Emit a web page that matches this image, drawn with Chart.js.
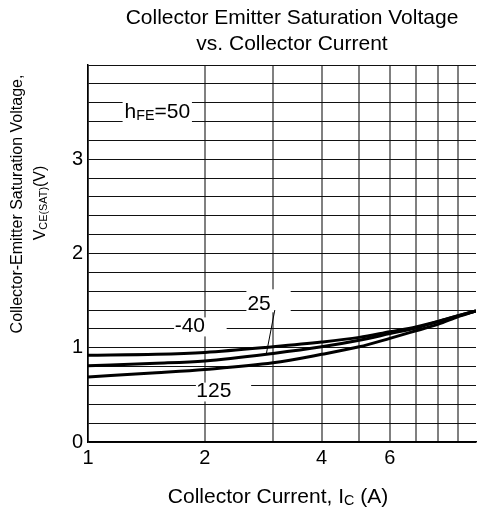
<!DOCTYPE html>
<html>
<head>
<meta charset="utf-8">
<script src="https://cdn.jsdelivr.net/npm/chart.js@4"></script>
<style>
    html, body { margin: 0; padding: 0; background: #fff; }
    #wrap { width: 480px; height: 512px; position: relative; }
</style>
</head>
<body>
<div id="wrap"><canvas id="chart"></canvas></div>
<script>
// collector current (A)
const currents = [1, 1.5, 2, 3, 4, 5, 6, 7, 8, 9, 10];

// VCE(sat) for hFE = 50, per ambient temperature
const vceMinus40 = [0.92, 0.93, 0.95, 1.01, 1.06, 1.11, 1.17, 1.22, 1.28, 1.34, 1.39];
const vce25 = [0.81, 0.835, 0.86, 0.94, 1.01, 1.08, 1.15, 1.21, 1.28, 1.34, 1.39];
const vce125 = [0.69, 0.735, 0.77, 0.84, 0.93, 1.01, 1.10, 1.18, 1.25, 1.33, 1.39];

const xGridValues = [1, 2, 3, 4, 5, 6, 7, 8, 9, 10];
const xTickLabels = [1, 2, 4, 6];
const yGridValues = [0, 0.2, 0.4, 0.6, 0.8, 1, 1.2, 1.4, 1.6, 1.8, 2, 2.2, 2.4, 2.6, 2.8, 3, 3.2, 3.4, 3.6, 3.8, 4];
const yTickLabels = [0, 1, 2, 3];

const FONT = '"Liberation Sans", Arial, sans-serif';

// text on the plot, placed in data units
const curveLabels = [
    { parts: [['h', false], ['FE', true], ['=50', false]], x: 1.509, y: 3.50, box: [1.228, 1.853, 3.386, 3.62] },
    { parts: [['-40', false]], x: 1.83, y: 1.227, box: [1.667, 2.277, 1.12, 1.322] },
    { parts: [['25', false]], x: 2.76, y: 1.46, box: [2.56, 3.33, 1.376, 1.62] },
    { parts: [['125', false]], x: 2.11, y: 0.535, box: [1.897, 2.633, 0.43, 0.63] }
];
const leader = { from: [3.03, 1.40], to: [2.88, 0.93] };

function drawRich(ctx, parts, x, y, size, align) {

    let widths = parts.map(p => {
        ctx.font = (p[1] ? size * 0.68 : size) + 'px ' + FONT;
        return ctx.measureText(p[0]).width;
    });
    let total = widths.reduce((a, b) => a + b, 0);
    let cx = align === 'center' ? x - total / 2 : x;

    ctx.textAlign = 'left';
    ctx.textBaseline = 'middle';
    parts.forEach((p, i) => {
        ctx.font = (p[1] ? size * 0.68 : size) + 'px ' + FONT;
        ctx.fillText(p[0], cx, p[1] ? y + size * 0.2 : y);
        cx += widths[i];
    });
}

const textPlugin = {
    id: 'textPlugin',
    afterDraw(chart) {

        const ctx = chart.ctx;
        const xs = chart.scales.x;
        const ys = chart.scales.y;

        ctx.save();
        ctx.fillStyle = '#000';

        // chart title
        ctx.font = '21px ' + FONT;
        ctx.textAlign = 'center';
        ctx.textBaseline = 'middle';
        ctx.fillText('Collector Emitter Saturation Voltage', 292, 18);
        ctx.fillText('vs. Collector Current', 292, 44);

        // x axis title
        drawRich(ctx, [['Collector Current, I', false], ['C', true], [' (A)', false]], 278, 497, 21, 'center');

        // y axis title
        ctx.save();
        ctx.translate(18, 204);
        ctx.rotate(-Math.PI / 2);
        ctx.font = '16px ' + FONT;
        ctx.textAlign = 'center';
        ctx.fillText('Collector-Emitter Saturation Voltage,', 0, 0);
        ctx.restore();

        ctx.save();
        ctx.translate(41, 203);
        ctx.rotate(-Math.PI / 2);
        drawRich(ctx, [['V', false], ['CE(SAT)', true], ['(V)', false]], 0, 0, 16, 'center');
        ctx.restore();

        // labels with white boxes
        curveLabels.forEach(l => {
            let x0 = xs.getPixelForValue(l.box[0]);
            let x1 = xs.getPixelForValue(l.box[1]);
            let y0 = ys.getPixelForValue(l.box[3]);
            let y1 = ys.getPixelForValue(l.box[2]);
            ctx.fillStyle = '#fff';
            ctx.fillRect(x0, y0, x1 - x0, y1 - y0);
            ctx.fillStyle = '#000';
            drawRich(ctx, l.parts, xs.getPixelForValue(l.x), ys.getPixelForValue(l.y), 21, 'center');
        });

        // leader line for 25
        ctx.strokeStyle = '#000';
        ctx.lineWidth = 1;
        ctx.beginPath();
        ctx.moveTo(xs.getPixelForValue(leader.from[0]), ys.getPixelForValue(leader.from[1]));
        ctx.lineTo(xs.getPixelForValue(leader.to[0]), ys.getPixelForValue(leader.to[1]));
        ctx.stroke();

        ctx.restore();
    }
};

function series(values) {
    return {
        data: currents.map((c, i) => ({ x: c, y: values[i] })),
        borderColor: '#000',
        borderWidth: 3,
        pointRadius: 0,
        fill: false,
        cubicInterpolationMode: 'monotone'
    };
}

new Chart(document.getElementById('chart'), {
    type: 'line',
    data: {
        datasets: [series(vceMinus40), series(vce25), series(vce125)]
    },
    options: {
        responsive: true,
        maintainAspectRatio: false,
        animation: false,
        layout: { padding: { top: 65, left: 0, right: 0, bottom: 0 } },
        plugins: {
            legend: { display: false },
            tooltip: { enabled: false },
            title: { display: false }
        },
        scales: {
            x: {
                type: 'logarithmic',
                min: 1,
                max: 10,
                afterBuildTicks(scale) {
                    scale.ticks = xGridValues.map(v => ({ value: v }));
                },
                afterFit(scale) {
                    scale.height = 70;
                },
                ticks: {
                    autoSkip: false,
                    maxRotation: 0,
                    padding: 4,
                    color: '#000',
                    font: { family: FONT, size: 20 },
                    callback: v => xTickLabels.includes(v) ? String(v) : ''
                },
                grid: {
                    drawTicks: false,
                    lineWidth: 2,
                    color: ctx => (ctx.tick && ctx.tick.value === 10) ? 'rgba(0,0,0,0)' : '#808080'
                },
                border: { color: '#000', width: 1.5 }
            },
            y: {
                min: 0,
                max: 4,
                afterBuildTicks(scale) {
                    scale.ticks = yGridValues.map(v => ({ value: v }));
                },
                afterFit(scale) {
                    scale.width = 88;
                },
                ticks: {
                    autoSkip: false,
                    padding: 5,
                    color: '#000',
                    font: { family: FONT, size: 20 },
                    callback: v => yTickLabels.includes(v) ? String(v) : ''
                },
                grid: {
                    drawTicks: false,
                    lineWidth: 1,
                    color: '#111'
                },
                border: { color: '#000', width: 1.5 }
            }
        }
    },
    plugins: [textPlugin]
});
</script>
</body>
</html>
